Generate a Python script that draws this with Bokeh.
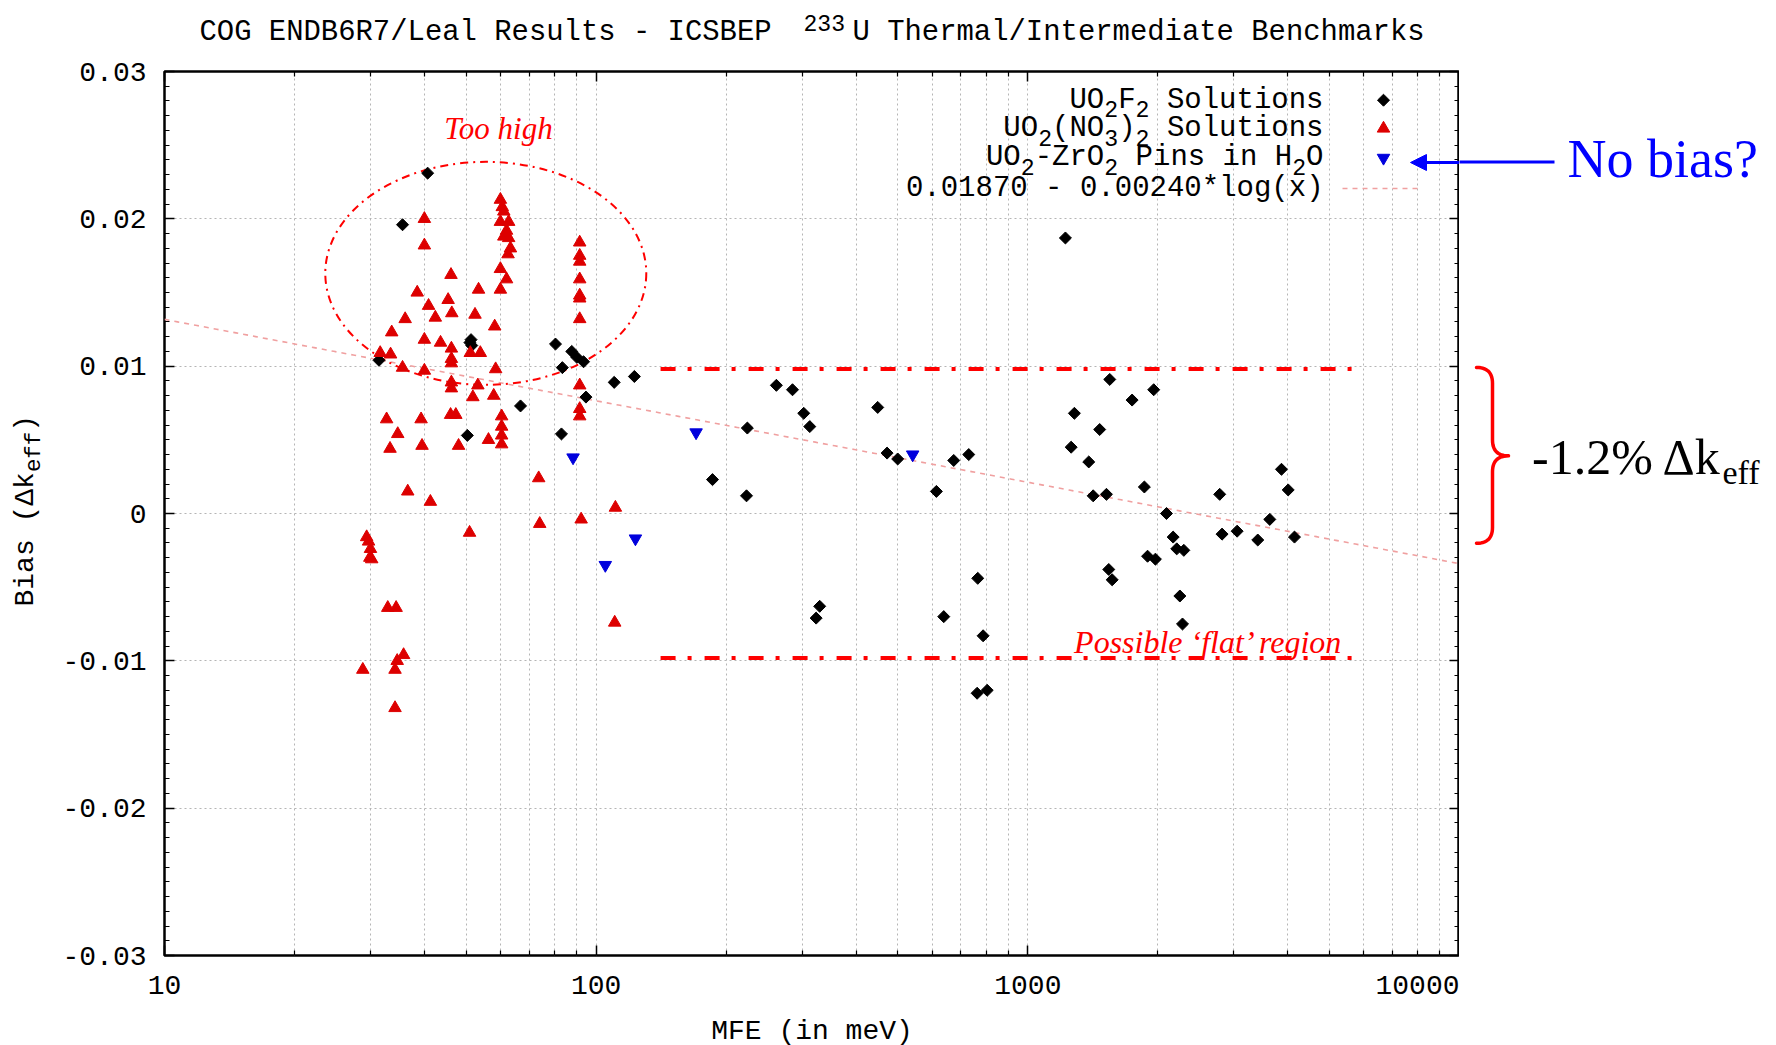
import numpy as np
from bokeh.plotting import figure
from bokeh.layouts import column, row
from bokeh.models import (Range1d, FixedTicker, LinearAxis, LogAxis, Label, Arrow,
                          NormalHead, NumeralTickFormatter, CustomJSTickFormatter)
from bokeh.embed import file_html
from bokeh.resources import INLINE

# ---------------- data ----------------
uo2f2_mfe = [40.7, 35.6, 31.4, 51.3, 51.0, 51.5, 50.3, 66.8, 80.5, 83.5, 87.8, 90.2, 93.5,
             94.7, 83.1, 110.1, 122.6, 186, 223, 224, 261.5, 285, 302.6, 312.5, 323.3, 329.5,
             449, 472, 499.5, 614, 638.6, 673.5, 729.7, 765.6, 787.8, 763, 805, 1222, 1260,
             1282, 1384, 1417, 1467, 1521, 1548, 1540, 1568, 1744, 1862, 1894, 1957, 1975,
             2095, 2171, 2213, 2298, 2250, 2282, 2783, 2818, 3054, 3409, 3635, 3869, 4010, 4147]
uo2f2_bias = [0.0231, 0.0196, 0.0104, 0.0118, 0.0116, 0.0114, 0.0053, 0.0073, 0.0115, 0.0099,
              0.0110, 0.0106, 0.0103, 0.0079, 0.0054, 0.0089, 0.0093, 0.0023, 0.0012, 0.0058,
              0.0087, 0.0084, 0.0068, 0.0059, -0.0071, -0.0063, 0.0072, 0.0041, 0.0037, 0.0015,
              -0.0070, 0.0036, 0.0040, -0.0044, -0.0083, -0.0122, -0.0120, 0.0187, 0.0045,
              0.0068, 0.0035, 0.0012, 0.0057, 0.0013, 0.0091, -0.0038, -0.0045, 0.0077, 0.0018,
              -0.0029, 0.0084, -0.0031, 0.0000, -0.0016, -0.0024, -0.0025, -0.0056, -0.0075,
              0.0013, -0.0014, -0.0012, -0.0018, -0.0004, 0.0030, 0.0016, -0.0016]

nitrate_mfe = [40.0, 40.0, 60.0, 60.6, 61.1, 60.0, 62.7, 62.0, 61.1, 62.7, 63.3, 62.5, 60.0,
               62.0, 60.0, 46.1, 38.5, 45.4, 53.4, 40.9, 46.3, 36.1, 42.4, 52.4, 33.6, 58.2,
               40.0, 43.6, 46.2, 31.6, 33.4, 46.2, 46.2, 51.1, 53.9, 35.6, 40.0, 58.5, 46.2,
               46.2, 53.2, 51.8, 57.9, 32.7, 39.3, 46.0, 47.3, 60.4, 60.4, 60.4, 60.4, 34.7,
               56.3, 33.3, 39.5, 48.0,
               91.6, 91.6, 91.6, 91.6, 91.6, 91.6, 91.6, 91.6, 91.6, 91.6,
               73.6, 36.6, 41.3, 110.8, 74.0, 92.3, 50.9, 29.4, 29.7, 30.0, 29.9, 30.2, 32.9,
               34.4, 110.4, 35.8, 34.6, 28.8, 34.2, 34.2]
nitrate_bias = [0.0200, 0.0182, 0.0213, 0.0208, 0.0205, 0.0198, 0.0198, 0.0192, 0.0188, 0.0187,
                0.0180, 0.0176, 0.0166, 0.0159, 0.0152, 0.0162, 0.0150, 0.0145, 0.0152, 0.0141,
                0.0136, 0.0132, 0.0133, 0.0135, 0.0123, 0.0127, 0.0118, 0.0116, 0.0112, 0.0109,
                0.0108, 0.0105, 0.0102, 0.0109, 0.0109, 0.0099, 0.0097, 0.0098, 0.0089, 0.0085,
                0.0087, 0.0079, 0.0080, 0.0064, 0.0064, 0.0067, 0.0067, 0.0066, 0.0059, 0.0053,
                0.0047, 0.0054, 0.0050, 0.0044, 0.0046, 0.0046,
                0.0184, 0.0175, 0.0171, 0.0159, 0.0148, 0.0146, 0.0132, 0.0087, 0.0071, 0.0066,
                0.0024, 0.0015, 0.0008, 0.0004, -0.0007, -0.0004, -0.0013, -0.0016, -0.0019,
                -0.0024, -0.0030, -0.0031, -0.0064, -0.0064, -0.0074, -0.0096, -0.0100,
                -0.0106, -0.0106, -0.0132]

pins_mfe = [88.4, 105.0, 123.3, 170.4, 541.0]
pins_bias = [0.0038, -0.0035, -0.0017, 0.0055, 0.0040]

fit_a, fit_b = 0.01870, 0.00240

x_ticks = [10, 100, 1000, 10000]
y_ticks = [-0.03, -0.02, -0.01, 0.0, 0.01, 0.02, 0.03]
y_tick_labels = ["-0.03", "-0.02", "-0.01", "0", "0.01", "0.02", "0.03"]

flat_x = [141, 5740]
flat_y = [0.0098, -0.0098]
too_high_x, too_high_y = 55.5, 0.0163

# ---------------- page geometry ----------------
FRAME_W, FRAME_H = 1295, 884
XMIN, XMAX, YMIN, YMAX = 10, 10000, -0.03, 0.03
TITLE_H = 50
LEFT_W = 54
MAIN_LEFT, MAIN_TOP, MAIN_BOTTOM = 110, 21, 88
MAIN_H = MAIN_TOP + FRAME_H + MAIN_BOTTOM
RIGHT_W = 1776 - LEFT_W - MAIN_LEFT - FRAME_W
PAGE_LEFT = LEFT_W + MAIN_LEFT              # 164
PAGE_TOP = TITLE_H + MAIN_TOP               # 71
PAGE_BOTTOM = PAGE_TOP + FRAME_H            # 955
RIGHT_LEFT = PAGE_LEFT + FRAME_W            # 1459

MONO = "Liberation Mono"
SERIF = "Liberation Serif"


def fx(X):
    return X - PAGE_LEFT


def fy(Y):
    return PAGE_BOTTOM - Y


def sx_to_x(px):
    lo, hi = np.log10(XMIN), np.log10(XMAX)
    return 10 ** (lo + px / FRAME_W * (hi - lo))


def sy_to_y(py):
    return YMIN + py / FRAME_H * (YMAX - YMIN)


def blank_fig(w, h, yspan):
    f = figure(width=w, height=h, x_range=Range1d(0, w), y_range=Range1d(0, yspan),
               min_border=0, x_axis_location=None, y_axis_location=None,
               output_backend="svg", toolbar_location=None, outline_line_color=None,
               background_fill_color="white", border_fill_color="white")
    f.grid.grid_line_color = None
    return f


def label(fig, x, y, text, size, font=MONO, color="black", align="left", style="normal",
          angle=0.0):
    fig.add_layout(Label(x=x, y=y, x_units="screen", y_units="screen", text=text,
                         text_font=font, text_font_size=f"{size:.1f}px",
                         text_font_style=style, text_color=color, text_align=align,
                         text_baseline="middle", angle=angle))


def rich(fig, segments, x, y, size, align="left", color="black", angle=0.0, font=MONO):
    cw = 0.6
    scale = [0.8 if k != "n" else 1.0 for t, k in segments]
    widths = [len(t) * cw * size * s for (t, k), s in zip(segments, scale)]
    total = sum(widths)
    pos = -total if align == "right" else (-total / 2 if align == "center" else 0.0)
    for (t, k), w, s in zip(segments, widths, scale):
        fs = size * s
        lead = len(t) - len(t.lstrip(" "))
        txt = t.strip(" ")
        off = pos + lead * cw * fs
        dy = -0.32 * size if k == "sub" else (0.33 * size if k == "sup" else 0.0)
        if angle == 0:
            lx, ly = x + off, y + dy
        else:
            lx, ly = x - dy, y + off
        label(fig, lx, ly, txt, fs, font=font, color=color, angle=angle)
        pos += w


# ---------------- main plot ----------------
p = figure(x_axis_type="log", x_range=Range1d(XMIN, XMAX), y_range=Range1d(YMIN, YMAX),
           frame_width=FRAME_W, frame_height=FRAME_H, output_backend="svg",
           toolbar_location=None, min_border_left=MAIN_LEFT, min_border_top=MAIN_TOP,
           min_border_right=0, min_border_bottom=MAIN_BOTTOM,
           background_fill_color="white", border_fill_color="white")
p.outline_line_color = "black"
p.outline_line_width = 2.5

bottom_axis = p.below[0]
left_axis = p.left[0]
top_axis = LogAxis()
right_axis = LinearAxis()
p.add_layout(top_axis, "above")
p.add_layout(right_axis, "right")

x_minor = [m * 10 ** e for e in (1, 2, 3) for m in range(2, 10)]
y_minor = [round(-0.03 + i * 0.001, 4) for i in range(61)]

for ax in [bottom_axis, top_axis]:
    ax.ticker = FixedTicker(ticks=x_ticks, minor_ticks=x_minor)
for ax in [left_axis, right_axis]:
    ax.ticker = FixedTicker(ticks=y_ticks, minor_ticks=y_minor)

for ax in [bottom_axis, left_axis, top_axis, right_axis]:
    ax.axis_line_color = None
    ax.major_tick_in = 10
    ax.major_tick_out = 0
    ax.minor_tick_in = 5
    ax.minor_tick_out = 0
    ax.major_tick_line_color = "black"
    ax.minor_tick_line_color = "black"
    ax.major_tick_line_width = 1.5
    ax.minor_tick_line_width = 1.2
    ax.major_label_text_font = MONO
    ax.major_label_text_font_size = "28px"
    ax.major_label_text_color = "black"

for ax in [top_axis, right_axis]:
    ax.formatter = CustomJSTickFormatter(code="return ''")
    ax.major_label_text_font_size = "1px"
    ax.major_label_standoff = 0

bottom_axis.formatter = NumeralTickFormatter(format="0")
left_axis.major_label_overrides = dict(zip(y_ticks, y_tick_labels))
bottom_axis.major_label_standoff = 20
left_axis.major_label_standoff = 18
bottom_axis.axis_label = "MFE (in meV)"
bottom_axis.axis_label_text_font = MONO
bottom_axis.axis_label_text_font_size = "28px"
bottom_axis.axis_label_text_font_style = "normal"
bottom_axis.axis_label_text_color = "black"
bottom_axis.axis_label_standoff = 19

p.xgrid.grid_line_color = "#b5b5b5"
p.xgrid.grid_line_dash = "2 3"
p.xgrid.minor_grid_line_color = "#b5b5b5"
p.xgrid.minor_grid_line_dash = "2 3"
p.ygrid.grid_line_color = "#b5b5b5"
p.ygrid.grid_line_dash = "2 3"

fit_x = np.logspace(np.log10(XMIN), np.log10(XMAX), 200)
fit_y = fit_a - fit_b * np.log(fit_x)
p.line(fit_x, fit_y, line_color="#f0a0a0", line_width=1.6, line_dash="5 5")

for yv in flat_y:
    p.line(flat_x, [yv, yv], line_color="#ff0000", line_width=4, line_dash="15 12 4 13")

p.ellipse(x=[too_high_x], y=[too_high_y], width=[321], height=[223],
          width_units="screen", height_units="screen", fill_color=None,
          line_color="#ff0000", line_width=2, line_dash="8 5 2 5")

BLACK, RED, BLUE = "#000000", "#dd0000", "#0000dd"
D_SIZE, T_SIZE_M = 8.5, 12.5
p.scatter(uo2f2_mfe, uo2f2_bias, marker="square", angle=np.pi / 4, size=D_SIZE,
          color=BLACK)
p.scatter(nitrate_mfe, nitrate_bias, marker="triangle", size=T_SIZE_M, color=RED)
p.scatter(pins_mfe, pins_bias, marker="inverted_triangle", size=T_SIZE_M, color=BLUE)

# legend, gnuplot style (text, then symbol)
LEG_TEXT_RIGHT = fx(1323)
LEG_SYM_X = fx(1383)
leg_rows = [fy(99.7), fy(128), fy(157.4), fy(188)]
p.scatter([sx_to_x(LEG_SYM_X)], [sy_to_y(leg_rows[0])], marker="square",
          angle=np.pi / 4, size=D_SIZE, color=BLACK)
p.scatter([sx_to_x(LEG_SYM_X)], [sy_to_y(leg_rows[1])], marker="triangle",
          size=T_SIZE_M, color=RED)
p.scatter([sx_to_x(LEG_SYM_X)], [sy_to_y(leg_rows[2])], marker="inverted_triangle",
          size=T_SIZE_M, color=BLUE)
p.line([sx_to_x(fx(1342)), sx_to_x(fx(1421))], [sy_to_y(leg_rows[3])] * 2,
       line_color="#f0a0a0", line_width=1.6, line_dash="5 5")

LEG_SIZE = 29
rich(p, [("UO", "n"), ("2", "sub"), ("F", "n"), ("2", "sub"), (" Solutions", "n")],
     LEG_TEXT_RIGHT, leg_rows[0], LEG_SIZE, align="right")
rich(p, [("UO", "n"), ("2", "sub"), ("(NO", "n"), ("3", "sub"), (")", "n"), ("2", "sub"),
         (" Solutions", "n")], LEG_TEXT_RIGHT, leg_rows[1], LEG_SIZE, align="right")
rich(p, [("UO", "n"), ("2", "sub"), ("-ZrO", "n"), ("2", "sub"), (" Pins in H", "n"),
         ("2", "sub"), ("O", "n")], LEG_TEXT_RIGHT, leg_rows[2], LEG_SIZE, align="right")
rich(p, [("0.01870 - 0.00240*log(x)", "n")], LEG_TEXT_RIGHT, leg_rows[3], LEG_SIZE,
     align="right")

label(p, fx(498), fy(128), "Too high", 31, font=SERIF, color="#ff0000", align="center",
      style="italic")
label(p, fx(1209), fy(641), "Possible \u2018flat\u2019 region", 32, font=SERIF,
      color="#ff0000", align="center", style="italic")
p.add_layout(Arrow(end=NormalHead(size=16, fill_color="#0000ff", line_color="#0000ff"),
                   x_start=fx(RIGHT_LEFT + 5), y_start=fy(162), x_end=fx(1410),
                   y_end=fy(162), start_units="screen", end_units="screen",
                   line_color="#0000ff", line_width=3))

# ---------------- title strip ----------------
title_fig = blank_fig(1776, TITLE_H, TITLE_H)
T_SIZE = 28.9
T_Y = TITLE_H - 32
label(title_fig, 199, T_Y, "COG ENDB6R7/Leal Results - ICSBEP", T_SIZE)
label(title_fig, 803, T_Y + 0.33 * T_SIZE, "233", 0.8 * T_SIZE)
label(title_fig, 852, T_Y, "U Thermal/Intermediate Benchmarks", T_SIZE)

# ---------------- side strips (frames align with the main frame) ----------------
left_fig = blank_fig(LEFT_W, MAIN_H, FRAME_H)
rich(left_fig, [("Bias (Δk", "n"), ("eff", "sub"), (")", "n")], 25, fy(612), 28,
     angle=np.pi / 2)

right_fig = blank_fig(RIGHT_W, MAIN_H, FRAME_H)


def rx(X):
    return X - RIGHT_LEFT


right_fig.line([rx(RIGHT_LEFT - 2), rx(1554)], [fy(162), fy(162)], line_color="#0000ff",
               line_width=3)
label(right_fig, rx(1567), fy(164), "No bias?", 54, font=SERIF, color="#0000ff")
label(right_fig, rx(1722), fy(462), "-1.2% Δk", 50, font=SERIF, align="right")
label(right_fig, rx(1722), fy(478), "eff", 34, font=SERIF)


def quad(p0, c, p1, n=14):
    t = np.linspace(0, 1, n)
    return [((1 - s) ** 2 * p0[0] + 2 * (1 - s) * s * c[0] + s ** 2 * p1[0],
             (1 - s) ** 2 * p0[1] + 2 * (1 - s) * s * c[1] + s ** 2 * p1[1]) for s in t]


xl, xm, xt = 1476, 1492, 1508
yt, ym, yb = 369, 458, 546
brace = (quad((xl, yt), (xm, yt), (xm, yt + 16)) + quad((xm, ym - 16), (xm, ym), (xt, ym))
         + quad((xt, ym), (xm, ym), (xm, ym + 16)) + quad((xm, yb - 16), (xm, yb), (xl, yb)))
right_fig.line([rx(a) for a, b in brace], [fy(b) for a, b in brace], line_color="#ff0000",
               line_width=3.5, line_join="round", line_cap="round")

layout = column(title_fig, row(left_fig, p, right_fig, spacing=0), spacing=0)
open("out.html", "w").write(file_html(layout, INLINE))
